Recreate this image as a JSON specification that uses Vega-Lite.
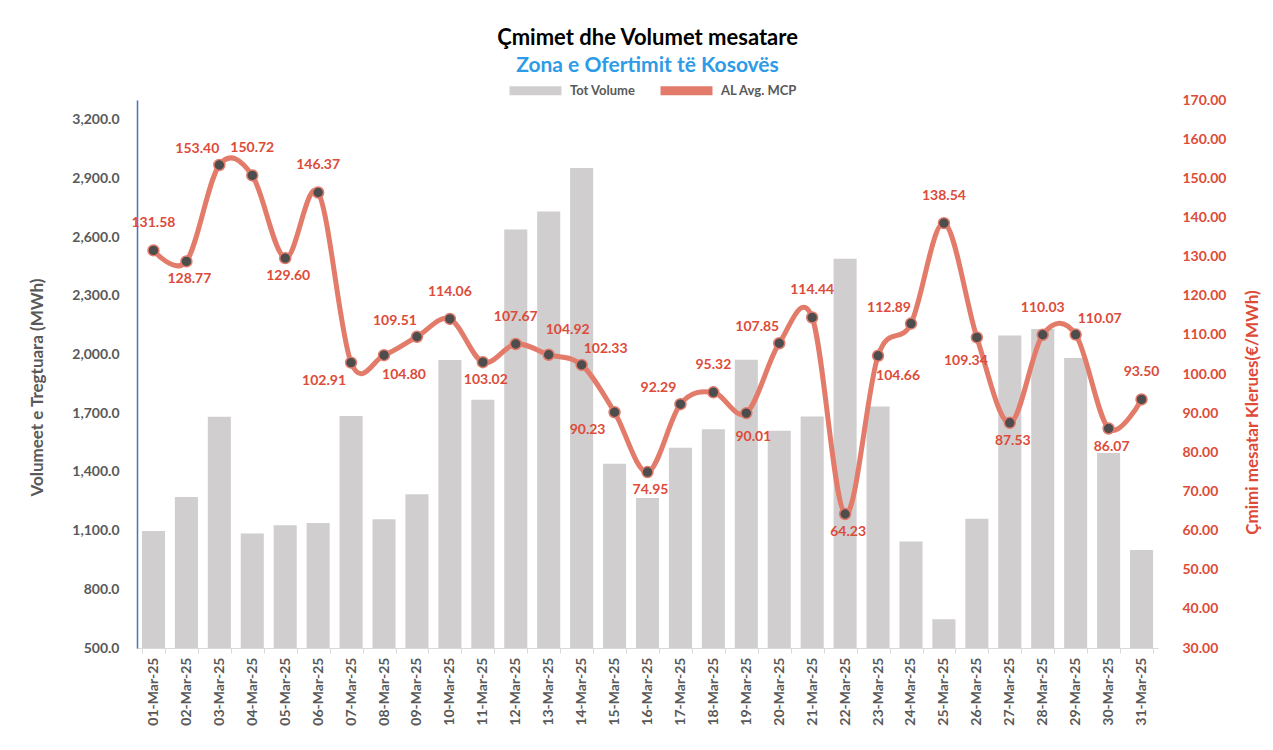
{
  "$schema": "https://vega.github.io/schema/vega-lite/v6.json",
  "width": 1021,
  "height": 548,
  "autosize": {"type": "none"},
  "padding": {"left": 137, "top": 100, "right": 115, "bottom": 102},
  "background": "white",
  "config": {"view": {"stroke": null}},
  "title": {
    "text": "Çmimet dhe Volumet mesatare",
    "subtitle": "Zona e Ofertimit të Kosovës",
    "anchor": "middle",
    "frame": "group",
    "font": "Lato",
    "fontSize": 22,
    "fontWeight": "bold",
    "color": "#000000",
    "subtitleFont": "Lato",
    "subtitleFontSize": 21,
    "subtitleFontWeight": "bold",
    "subtitleColor": "#2E9BE6",
    "subtitlePadding": 5,
    "offset": -17
  },
  "data": {
    "values": [
      {"date": "01-Mar-25", "volume": 1098, "price": 131.58},
      {"date": "02-Mar-25", "volume": 1272, "price": 128.77},
      {"date": "03-Mar-25", "volume": 1681, "price": 153.40},
      {"date": "04-Mar-25", "volume": 1085, "price": 150.72},
      {"date": "05-Mar-25", "volume": 1127, "price": 129.60},
      {"date": "06-Mar-25", "volume": 1139, "price": 146.37},
      {"date": "07-Mar-25", "volume": 1686, "price": 102.91},
      {"date": "08-Mar-25", "volume": 1158, "price": 104.80},
      {"date": "09-Mar-25", "volume": 1286, "price": 109.51},
      {"date": "10-Mar-25", "volume": 1971, "price": 114.06},
      {"date": "11-Mar-25", "volume": 1768, "price": 103.02},
      {"date": "12-Mar-25", "volume": 2638, "price": 107.67},
      {"date": "13-Mar-25", "volume": 2730, "price": 104.92},
      {"date": "14-Mar-25", "volume": 2953, "price": 102.33},
      {"date": "15-Mar-25", "volume": 1441, "price": 90.23},
      {"date": "16-Mar-25", "volume": 1267, "price": 74.95},
      {"date": "17-Mar-25", "volume": 1523, "price": 92.29},
      {"date": "18-Mar-25", "volume": 1618, "price": 95.32},
      {"date": "19-Mar-25", "volume": 1973, "price": 90.01},
      {"date": "20-Mar-25", "volume": 1610, "price": 107.85},
      {"date": "21-Mar-25", "volume": 1683, "price": 114.44},
      {"date": "22-Mar-25", "volume": 2489, "price": 64.23},
      {"date": "23-Mar-25", "volume": 1734, "price": 104.66},
      {"date": "24-Mar-25", "volume": 1044, "price": 112.89},
      {"date": "25-Mar-25", "volume": 647, "price": 138.54},
      {"date": "26-Mar-25", "volume": 1161, "price": 109.34},
      {"date": "27-Mar-25", "volume": 2097, "price": 87.53},
      {"date": "28-Mar-25", "volume": 2130, "price": 110.03},
      {"date": "29-Mar-25", "volume": 1982, "price": 110.07},
      {"date": "30-Mar-25", "volume": 1496, "price": 86.07},
      {"date": "31-Mar-25", "volume": 1001, "price": 93.50}
    ]
  },
  "encoding": {
    "x": {
      "field": "date",
      "type": "nominal",
      "sort": null,
      "scale": {"paddingInner": 0.3, "paddingOuter": 0.15},
      "axis": {
        "title": null,
        "labelAngle": -90,
        "labelAlign": "right",
        "labelBaseline": "middle",
        "labelFont": "Lato",
        "labelFontSize": 14,
        "labelFontWeight": "bold",
        "labelColor": "#595959",
        "labelPadding": 4,
        "domainColor": "#D9D9D9",
        "tickColor": "#D9D9D9",
        "tickSize": 5,
        "tickBand": "extent"
      }
    }
  },
  "layer": [
    {
      "mark": {"type": "bar", "clip": true},
      "encoding": {
        "y": {
          "field": "volume",
          "type": "quantitative",
          "scale": {"domain": [500, 3300], "nice": false, "zero": false},
          "axis": {
            "values": [500, 800, 1100, 1400, 1700, 2000, 2300, 2600, 2900, 3200],
            "format": ",.1f",
            "title": "Volumeet e Tregtuara (MWh)",
            "titleFont": "Lato",
            "titleFontSize": 17,
            "titleFontWeight": "bold",
            "titleColor": "#595959",
            "titleAngle": -90,
            "titleX": -100,
            "titleY": 287,
            "titleAlign": "center",
            "titleBaseline": "middle",
            "labelFont": "Lato",
            "labelFontSize": 14,
            "labelFontWeight": "bold",
            "labelColor": "#595959",
            "labelPadding": 18,
            "domainColor": "#4472C4",
            "domainWidth": 1.5,
            "ticks": false,
            "grid": false
          }
        },
        "color": {
          "datum": "Tot Volume",
          "type": "nominal",
          "scale": {"domain": ["Tot Volume", "AL Avg. MCP"], "range": ["#D0CECE", "#E37B6B"]},
          "legend": {
            "orient": "none",
            "legendX": 368,
            "legendY": -40,
            "direction": "horizontal",
            "title": null,
            "symbolType": "stroke",
            "symbolStrokeWidth": 9,
            "symbolSize": 2700,
            "labelFont": "Lato",
            "labelFontSize": 13,
            "labelFontWeight": "bold",
            "labelColor": "#595959",
            "columnPadding": 6
          }
        }
      }
    },
    {
      "encoding": {
        "y": {
          "field": "price",
          "type": "quantitative",
          "scale": {"domain": [30, 170], "nice": false, "zero": false},
          "axis": {
            "orient": "right",
            "values": [30, 40, 50, 60, 70, 80, 90, 100, 110, 120, 130, 140, 150, 160, 170],
            "format": ".2f",
            "title": "Çmimi mesatar Klerues(€/MWh)",
            "titleFont": "Lato",
            "titleFontSize": 17,
            "titleFontWeight": "bold",
            "titleColor": "#DD4B39",
            "titleAngle": -90,
            "titleX": 94,
            "titleY": 312,
            "titleAlign": "center",
            "titleBaseline": "middle",
            "labelFont": "Lato",
            "labelFontSize": 14,
            "labelFontWeight": "bold",
            "labelColor": "#DD4B39",
            "labelPadding": 24,
            "domain": false,
            "ticks": false,
            "grid": false
          }
        }
      },
      "layer": [
        {
          "mark": {"type": "line", "interpolate": "cardinal", "strokeWidth": 5},
          "encoding": {
            "color": {
              "datum": "AL Avg. MCP",
              "type": "nominal",
              "scale": {"domain": ["Tot Volume", "AL Avg. MCP"], "range": ["#D0CECE", "#E37B6B"]}
            }
          }
        },
        {
          "mark": {"type": "point", "filled": true, "fill": "#4D4D4D", "stroke": "#E37B6B", "strokeWidth": 1.5, "size": 120, "opacity": 1},
          "encoding": {}
        },
        {
          "transform": [{"filter": {"field": "date", "oneOf": ["01-Mar-25", "04-Mar-25", "06-Mar-25", "10-Mar-25", "12-Mar-25", "18-Mar-25", "21-Mar-25", "25-Mar-25", "28-Mar-25", "31-Mar-25"]}}],
          "mark": {"type": "text", "font": "Lato", "fontSize": 14, "fontWeight": "bold", "color": "#DD4B39", "dx": 0, "dy": -27},
          "encoding": {"text": {"field": "price", "format": ".2f"}}
        },
        {
          "transform": [{"filter": {"field": "date", "oneOf": ["02-Mar-25", "05-Mar-25", "11-Mar-25", "16-Mar-25", "22-Mar-25", "27-Mar-25", "30-Mar-25"]}}],
          "mark": {"type": "text", "font": "Lato", "fontSize": 14, "fontWeight": "bold", "color": "#DD4B39", "dx": 3, "dy": 18},
          "encoding": {"text": {"field": "price", "format": ".2f"}}
        },
        {
          "transform": [{"filter": {"field": "date", "oneOf": ["07-Mar-25", "15-Mar-25"]}}],
          "mark": {"type": "text", "font": "Lato", "fontSize": 14, "fontWeight": "bold", "color": "#DD4B39", "dx": -27, "dy": 18},
          "encoding": {"text": {"field": "price", "format": ".2f"}}
        },
        {
          "transform": [{"filter": {"field": "date", "oneOf": ["08-Mar-25", "23-Mar-25"]}}],
          "mark": {"type": "text", "font": "Lato", "fontSize": 14, "fontWeight": "bold", "color": "#DD4B39", "dx": 20, "dy": 20},
          "encoding": {"text": {"field": "price", "format": ".2f"}}
        },
        {
          "transform": [{"filter": {"field": "date", "oneOf": ["19-Mar-25"]}}],
          "mark": {"type": "text", "font": "Lato", "fontSize": 14, "fontWeight": "bold", "color": "#DD4B39", "dx": 7, "dy": 24},
          "encoding": {"text": {"field": "price", "format": ".2f"}}
        },
        {
          "transform": [{"filter": {"field": "date", "oneOf": ["26-Mar-25"]}}],
          "mark": {"type": "text", "font": "Lato", "fontSize": 14, "fontWeight": "bold", "color": "#DD4B39", "dx": -11, "dy": 24},
          "encoding": {"text": {"field": "price", "format": ".2f"}}
        },
        {
          "transform": [{"filter": {"field": "date", "oneOf": ["03-Mar-25", "09-Mar-25", "17-Mar-25", "20-Mar-25", "24-Mar-25"]}}],
          "mark": {"type": "text", "font": "Lato", "fontSize": 14, "fontWeight": "bold", "color": "#DD4B39", "dx": -22, "dy": -16},
          "encoding": {"text": {"field": "price", "format": ".2f"}}
        },
        {
          "transform": [{"filter": {"field": "date", "oneOf": ["14-Mar-25", "29-Mar-25"]}}],
          "mark": {"type": "text", "font": "Lato", "fontSize": 14, "fontWeight": "bold", "color": "#DD4B39", "dx": 24, "dy": -16},
          "encoding": {"text": {"field": "price", "format": ".2f"}}
        },
        {
          "transform": [{"filter": {"field": "date", "oneOf": ["13-Mar-25"]}}],
          "mark": {"type": "text", "font": "Lato", "fontSize": 14, "fontWeight": "bold", "color": "#DD4B39", "dx": 19, "dy": -25},
          "encoding": {"text": {"field": "price", "format": ".2f"}}
        }
      ]
    }
  ],
  "resolve": {"scale": {"y": "independent"}}
}
